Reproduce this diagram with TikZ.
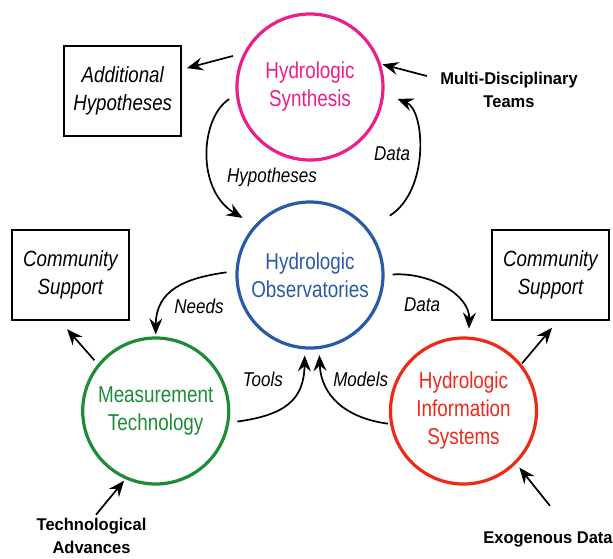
\documentclass[tikz,border=0pt]{standalone}
\usepackage{fontspec}
\setmainfont{Liberation Sans}[FakeStretch=0.85]
\newfontfamily\boldlbl{Liberation Sans}[FakeStretch=0.97]
\newfontfamily\hubfont{Liberation Sans}[FakeStretch=0.82]
\usetikzlibrary{arrows.meta,calc}
\definecolor{synth}{RGB}{236,30,140}
\definecolor{obs}{RGB}{40,90,168}
\definecolor{meas}{RGB}{30,140,55}
\definecolor{info}{RGB}{240,40,25}
\begin{document}
\begin{tikzpicture}[x=1pt,y=-1pt,
  hub/.style={circle, line width=3.2pt, minimum size=146pt, inner sep=0pt, align=center,
    font=\fontsize{23}{28}\selectfont\hubfont},
  boxnode/.style={draw, line width=1.8pt, minimum width=117pt, minimum height=90pt, inner sep=0pt,
    align=center, font=\fontsize{22}{28}\selectfont\itshape},
  extlbl/.style={align=center, font=\fontsize{17}{23}\selectfont\boldlbl\bfseries},
  flowlbl/.style={font=\fontsize{20}{24}\selectfont\itshape},
  conn/.style={line width=1.7pt, -{Stealth[length=16pt,width=13pt,inset=5.5pt]}}
]
\useasboundingbox (0,0) rectangle (613,558);

% hubs
\node[hub, draw=synth, text=synth] (syn) at (310,87) {Hydrologic\\Synthesis};
\node[hub, draw=obs, text=obs] (obs) at (310,275) {Hydrologic\\Observatories};
\node[hub, draw=meas, text=meas] (meas) at (155.7,411) {Measurement\\Technology};
\node[hub, draw=info, text=info] (info) at (463.5,411) {Hydrologic\\Information\\Systems};

% boxes
\node[boxnode] (addh) at (122.7,91) {Additional\\Hypotheses};
\node[boxnode] (cl) at (70.4,275) {Community\\Support};
\node[boxnode] (cr) at (550.5,275) {Community\\Support};

% external labels
\node[extlbl] (mdt) at (509,90) {Multi-Disciplinary\\Teams};
\node[extlbl] (tech) at (91.5,536) {Technological\\Advances};
\node[extlbl] (exo) at (548,539) {Exogenous Data};

% flow labels
\node[flowlbl] (lhyp) at (272,177.5) {Hypotheses};
\node[flowlbl] (ldata1) at (392,153.7) {Data};
\node[flowlbl] (lneeds) at (199,306.5) {Needs};
\node[flowlbl] (ldata2) at (422,305) {Data};
\node[flowlbl] (ltools) at (262.8,379) {Tools};
\node[flowlbl] (lmodels) at (360.7,379) {Models};

% connectors
\draw[conn, shorten <=11pt, shorten >=5pt] (syn.153) -- (addh.20);
\draw[conn, shorten >=1.5pt] ($(mdt.west)+(-10,-14)$) -- (syn.18);
\draw[conn, shorten <=8pt, shorten >=14pt] (syn.186) .. controls (200,118) and (196,190) .. (obs.138);
\draw[conn, shorten <=25pt, shorten >=14pt] (obs.38) .. controls (430,190) and (425,110) .. (syn.-5);
\draw[conn, shorten <=9pt, shorten >=2pt] (obs.177) .. controls (185,278) and (156,290) .. (meas.90);
\draw[conn, shorten <=8pt, shorten >=8pt] (obs.0) .. controls (430,272) and (470,295) .. (info.86);
\draw[conn, shorten <=8pt, shorten >=6pt] (meas.-9) .. controls (285,415) and (304,400) .. (obs.-94);
\draw[conn, shorten <=2pt, shorten >=6pt] (info.190) .. controls (345,418) and (321,395) .. (obs.-83);
\draw[conn, shorten >=2pt] ($(tech.north)+(4.5,0)$) -- (meas.-114);
\draw[conn, shorten <=5pt, shorten >=11pt] (meas.141) -- (cl.-103);
\draw[conn, shorten <=1pt, shorten >=9pt] (info.39) -- (cr.-81);
\draw[conn, shorten >=5pt] ($(exo.north)+(2,-22)$) -- (info.-45);
\end{tikzpicture}
\end{document}
